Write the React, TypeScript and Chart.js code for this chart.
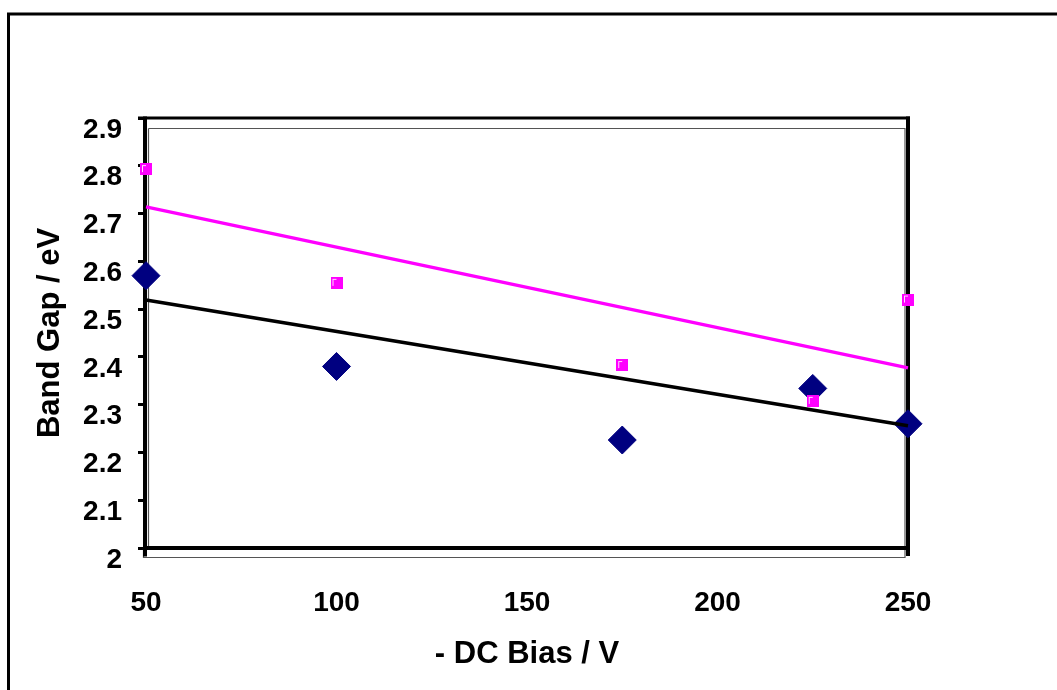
import React, { useEffect, useRef } from "react";
import { Chart, registerables } from "chart.js";

Chart.register(...registerables);

// ---- data ----
const biasValues = [50, 100, 175, 225, 250];
const bandGapDiamond = [2.57, 2.38, 2.226, 2.334, 2.26];
const bandGapSquare = [2.793, 2.555, 2.383, 2.308, 2.52];
const trendX = [50, 250];
const trendDiamond = [2.519, 2.256];
const trendSquare = [2.714, 2.377];
const xTickValues = [50, 100, 150, 200, 250];
const yTickValues = [2, 2.1, 2.2, 2.3, 2.4, 2.5, 2.6, 2.7, 2.8, 2.9];
const yTickLabels = ["2", "2.1", "2.2", "2.3", "2.4", "2.5", "2.6", "2.7", "2.8", "2.9"];
const xTitle = "- DC Bias / V";
const yTitle = "Band Gap / eV";

const FONT = "'Liberation Sans', Arial, Helvetica, sans-serif";

const framePlugin = {
  id: "excelFrame",
  beforeDatasetsDraw(chart: any) {
    const { ctx, chartArea: a } = chart;
    ctx.save();
    // outer chart border (extends beyond viewport)
    ctx.strokeStyle = "#000";
    ctx.lineWidth = 3;
    ctx.strokeRect(8.5, 14, chart.width + 40, chart.height + 40);
    // thin offset plot-area outline
    ctx.strokeStyle = "#555";
    ctx.lineWidth = 1.2;
    ctx.beginPath();
    ctx.moveTo(a.left + 2.5, a.top + 10.5);
    ctx.lineTo(a.right - 3, a.top + 10.5);
    ctx.lineTo(a.right - 3, a.bottom + 9.5);
    ctx.lineTo(a.left - 2.5, a.bottom + 9.5);
    ctx.lineTo(a.left - 2.5, a.bottom);
    ctx.moveTo(a.left + 2.5, a.top + 10.5);
    ctx.lineTo(a.left + 2.5, a.bottom);
    ctx.stroke();
    // thick black frame
    ctx.fillStyle = "#000";
    ctx.fillRect(a.left - 8, a.top - 1.5, a.right - a.left + 10, 3);
    ctx.fillRect(a.right - 2, a.top - 1.5, 4, a.bottom - a.top + 9.5);
    ctx.fillRect(a.left - 3, a.bottom - 2, a.right - a.left + 5, 4);
    ctx.fillRect(a.left - 3, a.top - 1.5, 4, a.bottom - a.top + 10);
    ctx.restore();
  },
};

function makeSquareMarker(): HTMLCanvasElement {
  const c = document.createElement("canvas");
  c.width = 12;
  c.height = 12;
  const g = c.getContext("2d")!;
  g.fillStyle = "#FF00FF";
  g.fillRect(0, 0, 12, 12);
  g.fillStyle = "#FFD8FF";
  g.fillRect(2, 2, 1, 7);
  g.fillRect(2, 2, 4, 1);
  return c;
}

export default function App() {
  const ref = useRef<HTMLCanvasElement | null>(null);

  useEffect(() => {
    if (!ref.current) return;
    const square = makeSquareMarker();
    const chart = new Chart(ref.current, {
      type: "scatter",
      data: {
        datasets: [
          {
            label: "trend magenta",
            data: trendX.map((x, i) => ({ x, y: trendSquare[i] })),
            showLine: true,
            borderColor: "#FF00FF",
            borderWidth: 3.2,
            pointRadius: 0,
            clip: false,
            order: 1,
          } as any,
          {
            label: "squares",
            data: biasValues.map((x, i) => ({ x, y: bandGapSquare[i] })),
            pointStyle: square,
            pointRadius: 6,
            backgroundColor: "#FF00FF",
            borderColor: "#FF00FF",
            clip: false,
            order: 2,
          } as any,
          {
            label: "trend black",
            data: trendX.map((x, i) => ({ x, y: trendDiamond[i] })),
            showLine: true,
            borderColor: "#000",
            borderWidth: 3.5,
            pointRadius: 0,
            clip: false,
            order: 3,
          } as any,
          {
            label: "diamonds",
            data: biasValues.map((x, i) => ({ x, y: bandGapDiamond[i] })),
            pointStyle: "rectRot",
            pointRadius: 14,
            backgroundColor: "#000080",
            borderColor: "#000080",
            borderWidth: 1,
            clip: false,
            order: 4,
          } as any,
        ],
      },
      options: {
        responsive: false,
        devicePixelRatio: 1,
        animation: false,
        events: [],
        layout: { padding: { left: 0, top: 118, right: 149, bottom: 0 } },
        plugins: { legend: { display: false }, tooltip: { enabled: false } },
        scales: {
          x: {
            type: "linear",
            min: 50,
            max: 250,
            afterBuildTicks: (s: any) => {
              s.ticks = xTickValues.map((v) => ({ value: v }));
            },
            afterFit: (s: any) => {
              s.height = 142;
            },
            grid: { display: false },
            border: { display: false },
            ticks: {
              color: "#000",
              font: { family: FONT, size: 28, weight: "bold" },
              padding: 30,
              maxRotation: 0,
              autoSkip: false,
            },
            title: {
              display: true,
              text: xTitle,
              color: "#000",
              font: { family: FONT, size: 31, weight: "bold" },
              padding: { top: 0, bottom: 17 },
            },
          },
          y: {
            type: "linear",
            min: 2,
            max: 2.9,
            afterBuildTicks: (s: any) => {
              s.ticks = yTickValues.map((v) => ({ value: v }));
            },
            afterFit: (s: any) => {
              s.width = 146;
            },
            grid: {
              display: true,
              drawOnChartArea: false,
              drawTicks: true,
              tickLength: 8,
              lineWidth: 3,
              color: "#000",
            },
            border: { display: false },
            ticks: {
              color: "#000",
              font: { family: FONT, size: 28, weight: "bold" },
              padding: 16,
              labelOffset: 12,
              autoSkip: false,
              callback: (_v: any, i: number) => yTickLabels[i],
            },
            title: {
              display: true,
              text: yTitle,
              color: "#000",
              font: { family: FONT, size: 31, weight: "bold" },
              padding: { top: 32, bottom: 0 },
            },
          },
        },
      },
      plugins: [framePlugin],
    });
    return () => chart.destroy();
  }, []);

  return (
    <div
      style={{
        position: "fixed",
        left: 0,
        top: 0,
        width: 1057,
        height: 690,
        background: "#fff",
        overflow: "hidden",
      }}
    >
      <canvas ref={ref} width={1057} height={690} style={{ display: "block" }} />
    </div>
  );
}
